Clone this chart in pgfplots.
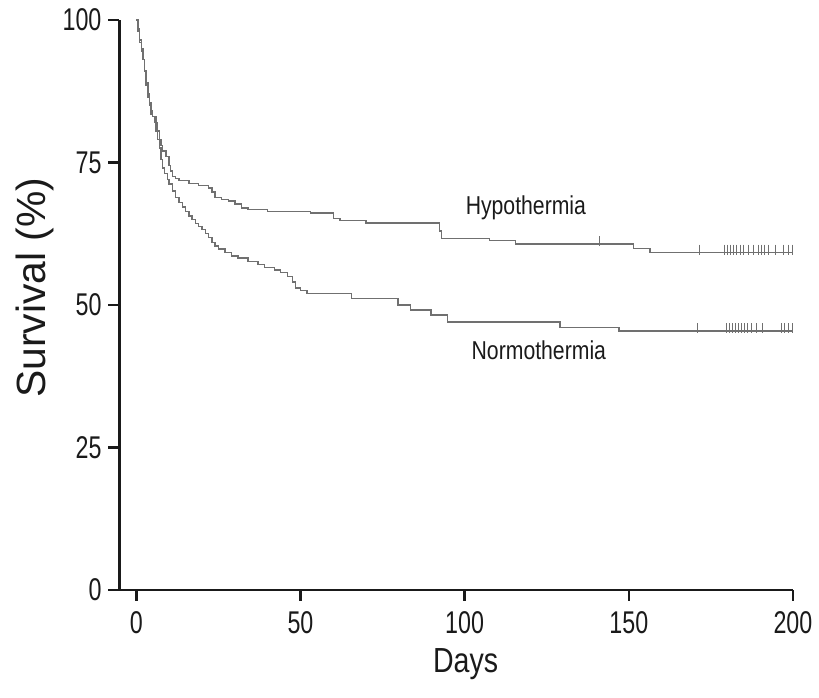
\documentclass[border=0pt]{standalone}
\usepackage{fontspec}
\setmainfont{Liberation Sans}[FakeStretch=0.82]
\newfontfamily\ylabfont{Liberation Sans}
\newfontfamily\tickfont{Liberation Sans}[FakeStretch=0.74]
\usepackage{pgfplots}
\pgfplotsset{compat=1.18}
\definecolor{Curve}{HTML}{707070}
\definecolor{Ink}{HTML}{1A1A1A}

\begin{document}
\begin{tikzpicture}
\begin{axis}[
    scale only axis,
    width=338.5pt,
    height=286.5pt,
    xmin=-5.15, xmax=200,
    ymin=0, ymax=100,
    axis x line=bottom,
    axis y line=left,
    axis line style={-, draw=Ink, line width=1.3pt},
    xtick={0,50,100,150,200},
    ytick={0,25,50,75,100},
    tick align=outside,
    major tick length=5.5pt,
    tick style={draw=Ink, line width=1.3pt},
    /pgf/number format/assume math mode=true,
    ticklabel style={font=\tickfont\fontsize{15.8}{18}\selectfont, text=Ink},
    xticklabel style={yshift=-2pt},
    xlabel={Days},
    xlabel style={at={(rel axis cs:0.514,-0.145)}, anchor=base,
        font=\fontsize{17.5}{20}\selectfont, text=Ink},
    ylabel={Survival (\%)},
    ylabel style={at={(rel axis cs:-0.1256,0.53)}, anchor=center,
        font=\ylabfont\fontsize{20.5}{24}\selectfont, text=Ink},
    clip=false,
]
% Hypothermia
\addplot[const plot, draw=Curve, line width=0.7pt] coordinates {
(0,100) (0.5,98) (1,96) (1.5,94.5) (2,93) (2.5,91) (3,89) (3.5,87) (4,85.5)
(4.5,84) (5,83) (6,82) (6.5,80.5) (7,79) (7.5,78) (8,77) (9,76) (10,74.5)
(10.5,73.5) (11,72.5) (12,72.2) (13,71.8) (16,71.3) (19,70.9) (22,70.5)
(23,69.8) (24,68.8) (26,68.5) (28,68.2) (30,67.7) (32,67.0) (34,66.7)
(40,66.4) (53,66.1) (60,65.2) (62,64.8) (70,64.4) (92.3,63.0) (93,61.7)
(107.5,61.3) (115.5,60.7) (151.4,59.9) (156.4,59.2) (200,59.2)
};
% Normothermia
\addplot[const plot, draw=Curve, line width=0.7pt] coordinates {
(0,100) (0.5,98.5) (1,96.5) (1.5,95) (2,93) (2.5,91) (3,88.5) (3.5,86.5)
(4,85) (4.5,83.5) (5,83) (5.5,82) (6,80.5) (6.5,79) (7,77.5) (7.5,75.5)
(8,74) (8.5,73) (9.5,72) (10,71.2) (11,70) (12,68.8) (13,68) (14,67.2)
(15,66.4) (16,65.6) (17,65) (18,64.3) (19,63.8) (20,63.2) (21,62.5)
(22,61.8) (23,61) (24,60.3) (25,59.8) (27,59.2) (29,58.6) (31,58.2)
(34,57.6) (37,57.1) (39,56.6) (42,56.1) (44,55.7) (46,55.0) (47.5,54.0)
(48.5,53.0) (50,52.5) (52,52.0) (65.5,51.1) (79.7,50.0) (83.6,49.1)
(89.7,48.2) (94.8,47.0) (129.1,46.0) (147,45.4) (200,45.4)
};
% censored
\addplot[only marks, mark=|, mark size=2.5pt, mark options={draw=Curve, line width=0.5pt}] coordinates {
(141,61.2) (171.5,59.7) (179.1,59.7) (180,59.7) (181,59.7) (181.8,59.7)
(182.7,59.7) (183.9,59.7) (184.8,59.7) (186.4,59.7) (187.9,59.7)
(189.4,59.7) (190.3,59.7) (191.2,59.7) (192.7,59.7) (194.8,59.7)
(197,59.7) (198.5,59.7) (200,59.7)
};
\addplot[only marks, mark=|, mark size=2.5pt, mark options={draw=Curve, line width=0.5pt}] coordinates {
(171,45.9) (179.7,45.9) (180.6,45.9) (181.5,45.9) (182.4,45.9) (183.3,45.9)
(184.2,45.9) (185.2,45.9) (186.1,45.9) (187.3,45.9) (188.8,45.9)
(190.6,45.9) (196.4,45.9) (197.3,45.9) (198.5,45.9) (200,45.9)
};
\node[anchor=base west, font=\fontsize{13}{15}\selectfont, text=Ink] at (axis cs:98.2,65.8) {Hypothermia};
\node[anchor=base west, font=\fontsize{13}{15}\selectfont, text=Ink] at (axis cs:100,40.5) {Normothermia};
\coordinate (bl) at (rel axis cs:-0.1773,-0.1885);
\coordinate (tr) at (rel axis cs:1.0325,1.0349);
\end{axis}
\path (bl) rectangle (tr);
\end{tikzpicture}
\end{document}
